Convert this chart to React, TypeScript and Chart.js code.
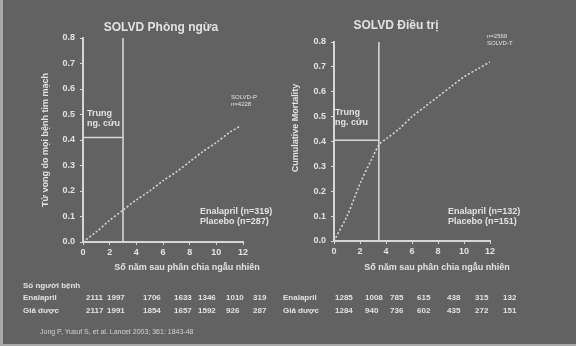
import React, { useEffect, useRef } from "react";
import { Chart, registerables } from "chart.js";

Chart.register(...registerables);

// ---------- data ----------
const leftTitle = "SOLVD Phòng ngừa";
const rightTitle = "SOLVD Điều trị";
const leftYTitle = "Tử vong do mọi bệnh tim mạch";
const rightYTitle = "Cumulative Mortality";
const xTitle = "Số năm sau phân chia ngẫu nhiên";

const yTickLabels = ["0.0", "0.1", "0.2", "0.3", "0.4", "0.5", "0.6", "0.7", "0.8"];
const xTickLabels = ["0", "2", "4", "6", "8", "10", "12"];

const preventionYears = [0, 1, 2, 3, 4, 5, 6, 7, 8, 9, 10, 11, 11.8];
const preventionMortality = [0, 0.04, 0.085, 0.125, 0.165, 0.2, 0.24, 0.275, 0.315, 0.355, 0.39, 0.43, 0.455];

const treatmentYears = [0, 1, 2, 3, 3.5, 4, 5, 6, 7, 8, 9, 10, 11, 12];
const treatmentMortality = [0, 0.1, 0.23, 0.34, 0.39, 0.41, 0.45, 0.5, 0.54, 0.58, 0.62, 0.66, 0.69, 0.72];

// trial follow-up markers: [years, mortality level]
const preventionTrialEnd = [3.0, 0.41];
const treatmentTrialEnd = [3.45, 0.405];
const trialLabel = ["Trung", "ng. cứu"];

const leftLegend = ["Enalapril (n=319)", "Placebo (n=287)"];
const rightLegend = ["Enalapril (n=132)", "Placebo (n=151)"];
const leftEndLabel = ["SOLVD-P", "n=4228"];
const rightEndLabel = ["n=2569", "SOLVD-T"];

const tableHeader = "Số người bệnh";
const rowLabels = ["Enalapril", "Giả dược"];
const preventionEnalapril = ["2111", "1997", "1706", "1633", "1346", "1010", "319"];
const preventionPlacebo = ["2117", "1991", "1854", "1657", "1592", "926", "287"];
const treatmentEnalapril = ["1285", "1008", "785", "615", "438", "315", "132"];
const treatmentPlacebo = ["1284", "940", "736", "602", "435", "272", "151"];
const footnote = "Jong P, Yusuf S, et al. Lancet 2003; 361: 1843-48";

// ---------- styling ----------
const BG = "#626262";
const FG = "#e2e2e2";
const LINE = "#d6d6d6";
const FONT = "'Liberation Sans', Arial, sans-serif";

const refPlugin = (trial: number[]) => ({
  id: "refLines",
  afterDraw(chart: any) {
    const { ctx, scales } = chart;
    const x = scales.x, y = scales.y;
    ctx.save();
    ctx.strokeStyle = LINE;
    ctx.lineWidth = 1.6;
    const xv = x.getPixelForValue(trial[0]);
    ctx.beginPath();
    ctx.moveTo(xv, y.getPixelForValue(0.8));
    ctx.lineTo(xv, y.getPixelForValue(0));
    ctx.stroke();
    const yv = y.getPixelForValue(trial[1]);
    ctx.beginPath();
    ctx.moveTo(x.getPixelForValue(0), yv);
    ctx.lineTo(xv, yv);
    ctx.stroke();
    ctx.restore();
  },
});

function makeConfig(xs: number[], ys: number[], trial: number[], pad: any, yw: number) {
  const tickFont = { family: FONT, size: 9, weight: "bold" as const };
  return {
    type: "line" as const,
    data: {
      datasets: [
        {
          data: xs.map((v, i) => ({ x: v, y: ys[i] })),
          borderColor: LINE,
          borderWidth: 1.6,
          borderDash: [2, 2],
          pointRadius: 0,
          tension: 0.3,
          fill: false,
        },
      ],
    },
    options: {
      animation: false as const,
      responsive: false,
      maintainAspectRatio: false,
      layout: { padding: pad },
      plugins: { legend: { display: false }, tooltip: { enabled: false }, title: { display: false } },
      scales: {
        x: {
          type: "linear" as const,
          min: 0,
          max: 12,
          ticks: {
            stepSize: 2,
            color: FG,
            font: tickFont,
            padding: 2,
            maxRotation: 0,
            callback: (_v: any, i: number) => xTickLabels[i],
          },
          grid: { display: true, drawOnChartArea: false, drawTicks: true, tickLength: 3, color: LINE },
          border: { display: true, color: LINE, width: 2 },
          afterFit: (s: any) => { s.height = 20; },
        },
        y: {
          type: "linear" as const,
          min: 0,
          max: 0.8,
          ticks: {
            stepSize: 0.1,
            color: FG,
            font: tickFont,
            padding: 5,
            callback: (_v: any, i: number) => yTickLabels[i],
          },
          grid: { display: true, drawOnChartArea: false, drawTicks: true, tickLength: 3, color: LINE },
          border: { display: true, color: LINE, width: 2 },
          afterFit: (s: any) => { s.width = yw; },
        },
      },
    },
    plugins: [refPlugin(trial)],
  };
}

const T = (props: { x: number; y: number; s: number; children: any; w?: boolean; align?: string; op?: number }) => (
  <div
    style={{
      position: "absolute",
      left: props.x,
      top: props.y,
      fontSize: props.s,
      fontWeight: props.w === false ? "normal" : "bold",
      color: FG,
      whiteSpace: "pre",
      lineHeight: 1.15,
      opacity: props.op ?? 1,
      transform: props.align === "center" ? "translateX(-50%)" : undefined,
      textAlign: props.align === "center" ? "center" : "left",
    }}
  >
    {props.children}
  </div>
);

const VT = (props: { cx: number; cy: number; s: number; children: any }) => (
  <div
    style={{
      position: "absolute",
      left: props.cx,
      top: props.cy,
      fontSize: props.s,
      fontWeight: "bold",
      color: FG,
      whiteSpace: "nowrap",
      transform: "translate(-50%, -50%) rotate(-90deg)",
    }}
  >
    {props.children}
  </div>
);

export default function App() {
  const leftRef = useRef<HTMLCanvasElement>(null);
  const rightRef = useRef<HTMLCanvasElement>(null);

  useEffect(() => {
    const c1 = new Chart(
      leftRef.current as HTMLCanvasElement,
      makeConfig(preventionYears, preventionMortality, preventionTrialEnd, { top: 38, right: 47, bottom: 18, left: 0 }, 83) as any
    );
    const c2 = new Chart(
      rightRef.current as HTMLCanvasElement,
      makeConfig(treatmentYears, treatmentMortality, treatmentTrialEnd, { top: 42, right: 86, bottom: 19, left: 0 }, 44) as any
    );
    return () => {
      c1.destroy();
      c2.destroy();
    };
  }, []);

  const leftCols = [86, 107, 143, 174, 198, 226, 253];
  const rightCols = [338, 368, 393, 420, 450, 478, 506];

  return (
    <div
      style={{
        position: "fixed",
        left: 0,
        top: 0,
        width: 576,
        height: 346,
        background: BG,
        fontFamily: FONT,
        overflow: "hidden",
        boxSizing: "border-box",
        borderLeft: "3px solid #a9a9a9",
        borderBottom: "2px solid #a9a9a9",
      }}
    >
      <canvas ref={leftRef} width={290} height={280} style={{ position: "absolute", left: -3, top: 0, width: 290, height: 280 }} />
      <canvas ref={rightRef} width={286} height={280} style={{ position: "absolute", left: 287, top: 0, width: 286, height: 280 }} />

      <T x={158} y={21} s={12} align="center">{leftTitle}</T>
      <T x={393} y={19} s={12} align="center">{rightTitle}</T>

      <VT cx={42} cy={140} s={9}>{leftYTitle}</VT>
      <VT cx={292} cy={128} s={9}>{rightYTitle}</VT>

      <T x={84} y={108} s={9}>{trialLabel.join("\n")}</T>
      <T x={332} y={107} s={9}>{trialLabel.join("\n")}</T>

      <T x={228} y={94} s={6} w={false}>{leftEndLabel.join("\n")}</T>
      <T x={484} y={33} s={6} w={false}>{rightEndLabel.join("\n")}</T>

      <T x={197} y={206} s={9}>{leftLegend.join("\n")}</T>
      <T x={445} y={206} s={9}>{rightLegend.join("\n")}</T>

      <T x={184} y={262} s={9} align="center">{xTitle}</T>
      <T x={434} y={262} s={9} align="center">{xTitle}</T>

      <T x={20} y={281} s={8}>{tableHeader}</T>
      <T x={20} y={293} s={8}>{rowLabels[0]}</T>
      <T x={20} y={306} s={8}>{rowLabels[1]}</T>
      {preventionEnalapril.map((v, i) => (
        <T key={"pe" + i} x={leftCols[i] - 3} y={293} s={8}>{v}</T>
      ))}
      {preventionPlacebo.map((v, i) => (
        <T key={"pp" + i} x={leftCols[i] - 3} y={306} s={8}>{v}</T>
      ))}
      <T x={280} y={293} s={8}>{rowLabels[0]}</T>
      <T x={280} y={306} s={8}>{rowLabels[1]}</T>
      {treatmentEnalapril.map((v, i) => (
        <T key={"te" + i} x={rightCols[i] - 6} y={293} s={8}>{v}</T>
      ))}
      {treatmentPlacebo.map((v, i) => (
        <T key={"tp" + i} x={rightCols[i] - 6} y={306} s={8}>{v}</T>
      ))}

      <T x={37} y={328} s={7} w={false} op={0.85}>{footnote}</T>
    </div>
  );
}
